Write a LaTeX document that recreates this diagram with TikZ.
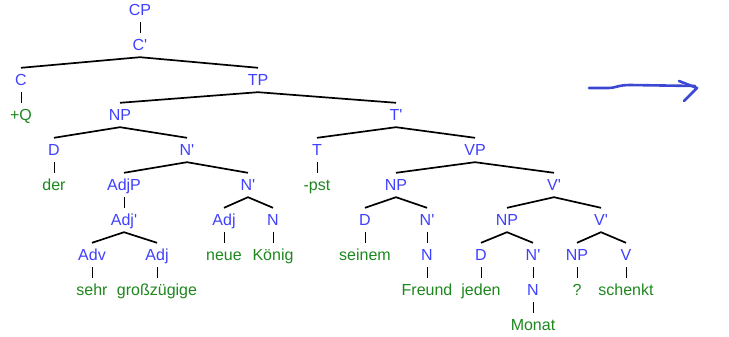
\documentclass[tikz,border=0pt]{standalone}
\usepackage{fontspec}
\setmainfont{Liberation Sans}
\definecolor{catblue}{RGB}{64,64,255}
\definecolor{wordgreen}{RGB}{30,135,30}
\definecolor{penblue}{RGB}{60,72,210}
\newcommand\pr{\textquotesingle}
\tikzset{
  base/.style={font=\fontsize{16}{18}\selectfont, text height=11.5pt, text depth=0pt, inner xsep=1pt, inner ysep=6.25pt},
  cat/.style={base, text=catblue},
  wd/.style={base, text=wordgreen},
  br/.style={draw=black, line width=1.7pt, line join=miter},
  un/.style={draw=black, line width=1pt},
  pen/.style={draw=penblue, line width=2.6pt, line cap=round, line join=round}
}
\begin{document}
\begin{tikzpicture}[x=1pt,y=-1pt]
\useasboundingbox (0,0) rectangle (729,337);
% row 1-2
\node[cat] (CP) at (140,10) {CP};
\node[cat] (C1) at (140,45) {C\pr};
% row 3
\node[cat] (C) at (21,80) {C};
\node[cat] (TP) at (258,80) {TP};
% row 4
\node[wd] (Q) at (21,115) {+Q};
\node[cat] (NP1) at (120,115) {NP};
\node[cat] (T1) at (396,115) {T\pr};
% row 5
\node[cat] (D1) at (54,150) {D};
\node[cat] (N1) at (187,150) {N\pr};
\node[cat] (T) at (317,150) {T};
\node[cat] (VP) at (475,150) {VP};
% row 6
\node[wd] (der) at (54,185) {der};
\node[cat] (AdjP) at (124,185) {AdjP};
\node[cat] (N2) at (248,185) {N\pr};
\node[wd] (pst) at (317,185) {-pst};
\node[cat] (NP2) at (396,185) {NP};
\node[cat] (V1) at (554,185) {V\pr};
% row 7
\node[cat] (Adj1) at (124,220) {Adj\pr};
\node[cat] (Adj2) at (224,220) {Adj};
\node[cat] (N3) at (273,220) {N};
\node[cat] (D2) at (365,220) {D};
\node[cat] (N4) at (427,220) {N\pr};
\node[cat] (NP3) at (507,220) {NP};
\node[cat] (V2) at (601,220) {V\pr};
% row 8
\node[cat] (Adv) at (92,255) {Adv};
\node[cat] (Adj3) at (157,255) {Adj};
\node[wd] (neue) at (224,255) {neue};
\node[wd] (Koenig) at (273,255) {König};
\node[wd] (seinem) at (365,255) {seinem};
\node[cat] (N5) at (427,255) {N};
\node[cat] (D3) at (481,255) {D};
\node[cat] (N6) at (533,255) {N\pr};
\node[cat] (NP4) at (577,255) {NP};
\node[cat] (V) at (626,255) {V};
% row 9
\node[wd] (sehr) at (92,290) {sehr};
\node[wd] (gross) at (157,290) {großzügige};
\node[wd] (Freund) at (427,290) {Freund};
\node[wd] (jeden) at (481,290) {jeden};
\node[cat] (N7) at (533,290) {N};
\node[wd] (qm) at (577,290) {?};
\node[wd] (schenkt) at (626,290) {schenkt};
% row 10
\node[wd] (Monat) at (533,325) {Monat};

% unary branches
\draw[un] (CP.south) -- (C1.north);
\draw[un] (C.south) -- (Q.north);
\draw[un] (D1.south) -- (der.north);
\draw[un] (T.south) -- (pst.north);
\draw[un] (AdjP.south) -- (Adj1.north);
\draw[un] (Adj2.south) -- (neue.north);
\draw[un] (N3.south) -- (Koenig.north);
\draw[un] (D2.south) -- (seinem.north);
\draw[un] (N4.south) -- (N5.north);
\draw[un] (Adv.south) -- (sehr.north);
\draw[un] (Adj3.south) -- (gross.north);
\draw[un] (N5.south) -- (Freund.north);
\draw[un] (D3.south) -- (jeden.north);
\draw[un] (N6.south) -- (N7.north);
\draw[un] (NP4.south) -- (qm.north);
\draw[un] (V.south) -- (schenkt.north);
\draw[un] (N7.south) -- (Monat.north);

% binary branches
\draw[br] (C.north) -- (C1.south) -- (TP.north);
\draw[br] (NP1.north) -- (TP.south) -- (T1.north);
\draw[br] (D1.north) -- (NP1.south) -- (N1.north);
\draw[br] (T.north) -- (T1.south) -- (VP.north);
\draw[br] (AdjP.north) -- (N1.south) -- (N2.north);
\draw[br] (NP2.north) -- (VP.south) -- (V1.north);
\draw[br] (Adj2.north) -- (N2.south) -- (N3.north);
\draw[br] (D2.north) -- (NP2.south) -- (N4.north);
\draw[br] (NP3.north) -- (V1.south) -- (V2.north);
\draw[br] (Adv.north) -- (Adj1.south) -- (Adj3.north);
\draw[br] (D3.north) -- (NP3.south) -- (N6.north);
\draw[br] (NP4.north) -- (V2.south) -- (V.north);

% hand-drawn arrow
\coordinate (a0) at (589,88);
\coordinate (a1) at (695,86);
\coordinate (h1) at (679,81);
\coordinate (h2) at (697,88);
\coordinate (h3) at (684,101);
\draw[pen] (a0) -- (608,88) .. controls (616,88) and (618,85) .. (630,85) -- (a1);
\draw[pen] (h1) -- (h2) -- (h3);
\end{tikzpicture}
\end{document}
